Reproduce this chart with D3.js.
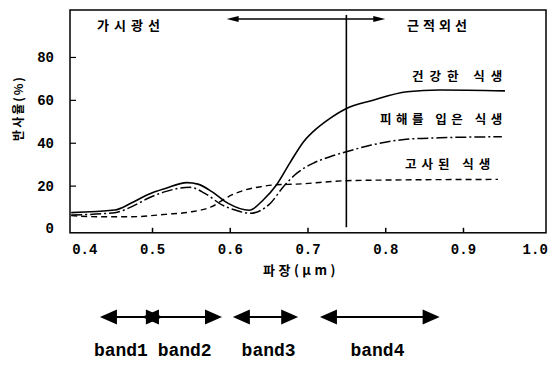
<!DOCTYPE html>
<html>
<head>
<meta charset="utf-8">
<script src="https://cdn.jsdelivr.net/npm/d3@7"></script>
<style>
  body { margin: 0; background: #fff; }
  svg { display: block; }
  .kr { font-family: "Noto Sans CJK KR", sans-serif; font-weight: bold; fill: #000; }
  .num { font-family: "Liberation Mono", monospace; font-weight: bold; fill: #000; }
</style>
</head>
<body>
<svg id="chart" width="555" height="365"></svg>
<script>
// reflectance curves (wavelength um, reflectance %)
const healthyWl  = [0.396, 0.452, 0.474, 0.495, 0.517, 0.545, 0.559, 0.577, 0.598, 0.625, 0.643, 0.66, 0.677, 0.695, 0.712, 0.729, 0.75, 0.782, 0.828, 0.87, 0.954];
const healthyRef = [7.4, 8.6, 12, 15.9, 18.7, 21.4, 20.7, 17.2, 11.7, 8.5, 13.3, 20.3, 30.4, 40.5, 46.7, 51.4, 56, 59.6, 63.8, 64.6, 64.2];

const damagedWl  = [0.396, 0.452, 0.474, 0.495, 0.517, 0.549, 0.568, 0.59, 0.607, 0.626, 0.652, 0.669, 0.686, 0.707, 0.729, 0.75, 0.782, 0.827, 0.87, 0.95];
const damagedRef = [6.3, 7.4, 10.2, 14.1, 17.2, 19.2, 16.4, 11, 8.6, 7.1, 11.7, 19.5, 25.7, 30.4, 33.5, 35.8, 38.9, 41.6, 42.3, 42.8];

const deadWl  = [0.396, 0.431, 0.474, 0.517, 0.551, 0.577, 0.598, 0.62, 0.64, 0.656, 0.686, 0.75, 0.8, 0.945];
const deadRef = [6, 5.5, 5.5, 6.6, 7.8, 10.2, 14.8, 18, 19.5, 20.3, 20.7, 22.3, 22.6, 22.9];

const xTicks = [0.4, 0.5, 0.6, 0.7, 0.8, 0.9, 1.0];
const yTicks = [0, 20, 40, 60, 80];

const bandNames  = ["band1", "band2", "band3", "band4"];
const bandStart  = [0.433, 0.487, 0.604, 0.716];
const bandEnd    = [0.514, 0.590, 0.688, 0.870];
const bandLabelX = [0.46, 0.542, 0.650, 0.790];

const nirLine = 0.75;
const regionArrow = [0.596, 0.80];

const svg = d3.select("#chart");

const x = d3.scaleLinear().domain([0.3945, 1.0068]).range([70, 546]);
const y = d3.scaleLinear().domain([-2, 101.9]).range([232.8, 10]);

// frame
svg.append("rect")
  .attr("x", 70).attr("y", 10).attr("width", 476).attr("height", 222.8)
  .attr("fill", "none").attr("stroke", "#000").attr("stroke-width", 1.5);

// axes
const yAxis = d3.axisLeft(y).tickValues(yTicks).tickSizeInner(-6).tickSizeOuter(0).tickPadding(16);
const gy = svg.append("g").attr("transform", "translate(70,0)").call(yAxis);
gy.select(".domain").remove();
gy.selectAll(".tick line").attr("stroke-width", 1.2).filter(d => d === 0).remove();
gy.selectAll("text").attr("class", "num").style("font-size", "14px").attr("font-family", null);

const xAxis = d3.axisBottom(x).tickValues(xTicks).tickFormat(d3.format(".1f")).tickSizeInner(-5).tickSizeOuter(0).tickPadding(11);
const gx = svg.append("g").attr("transform", "translate(0,232.8)").call(xAxis);
gx.select(".domain").remove();
gx.selectAll(".tick line").attr("stroke-width", 1.5).filter(d => d === 0.4 || d === 1.0).remove();
gx.selectAll("text").attr("class", "num").style("font-size", "14px").attr("font-family", null)
  .attr("dx", d => d === 0.4 ? 10 : (d === 1.0 ? -6 : 0));

// curves
const line = d3.line().x(d => x(d[0])).y(d => y(d[1])).curve(d3.curveMonotoneX);

svg.append("path").datum(d3.zip(healthyWl, healthyRef)).attr("d", line)
  .attr("fill", "none").attr("stroke", "#000").attr("stroke-width", 1.6);
svg.append("path").datum(d3.zip(damagedWl, damagedRef)).attr("d", line)
  .attr("fill", "none").attr("stroke", "#000").attr("stroke-width", 1.5)
  .attr("stroke-dasharray", "11,3,2,3");
svg.append("path").datum(d3.zip(deadWl, deadRef)).attr("d", line)
  .attr("fill", "none").attr("stroke", "#000").attr("stroke-width", 1.4)
  .attr("stroke-dasharray", "6,4");

// 0.75um boundary
svg.append("line")
  .attr("x1", x(nirLine)).attr("x2", x(nirLine))
  .attr("y1", y(99.6)).attr("y2", y(0.6))
  .attr("stroke", "#000").attr("stroke-width", 1.6);

// arrow helper
function arrow(g, x1, x2, yy, len, half, sw) {
  g.append("line").attr("x1", x1 + len * 0.5).attr("x2", x2 - len * 0.5)
    .attr("y1", yy).attr("y2", yy).attr("stroke", "#000").attr("stroke-width", sw);
  g.append("path").attr("d", `M${x1},${yy}L${x1 + len},${yy - half}L${x1 + len},${yy + half}Z`).attr("fill", "#000");
  g.append("path").attr("d", `M${x2},${yy}L${x2 - len},${yy - half}L${x2 - len},${yy + half}Z`).attr("fill", "#000");
}

// visible / near-IR region arrow
arrow(svg, x(regionArrow[0]), x(regionArrow[1]), y(97.7), 12, 3, 1.3);

// region labels
svg.append("text").attr("class", "kr").attr("x", 97).attr("y", 30)
  .style("font-size", "13px").style("letter-spacing", "5px").text("가시광선");
svg.append("text").attr("class", "kr").attr("x", 407).attr("y", 30)
  .style("font-size", "13px").style("letter-spacing", "4px").text("근적외선");

// curve labels
svg.append("text").attr("class", "kr").attr("x", 412).attr("y", 81)
  .style("font-size", "12.5px").style("letter-spacing", "6px").text("건강한 식생");
svg.append("text").attr("class", "kr").attr("x", 380).attr("y", 124)
  .style("font-size", "12.5px").style("letter-spacing", "4.5px").text("피해를 입은 식생");
svg.append("text").attr("class", "kr").attr("x", 405).attr("y", 169)
  .style("font-size", "12.5px").style("letter-spacing", "5px").text("고사된 식생");

// axis titles
svg.append("text").attr("class", "kr")
  .attr("transform", "translate(23,108) rotate(-90)").attr("text-anchor", "middle")
  .style("font-size", "12px").style("letter-spacing", "2px").text("반사율(%)");
svg.append("text").attr("class", "kr").attr("x", 301).attr("y", 275).attr("text-anchor", "middle")
  .style("font-size", "13px").style("letter-spacing", "3.5px").text("파장(μm)");

// band arrows
const bands = svg.append("g");
bandNames.forEach((b, i) => {
  arrow(bands, x(bandStart[i]), x(bandEnd[i]), 317, 17, 7.5, 2);
  bands.append("text").attr("class", "num")
    .attr("x", x(bandLabelX[i])).attr("y", 356).attr("text-anchor", "middle")
    .style("font-size", "18px").text(b);
});
</script>
</body>
</html>
